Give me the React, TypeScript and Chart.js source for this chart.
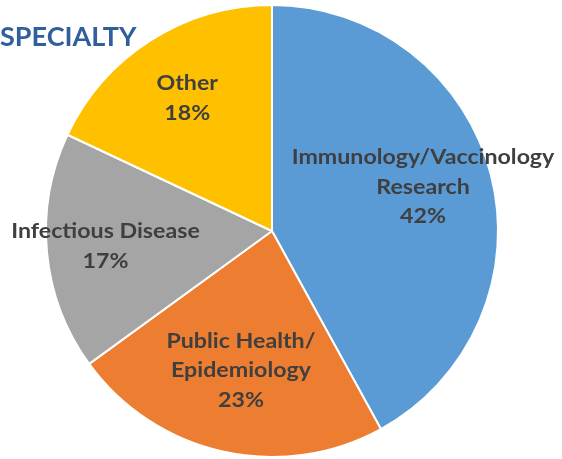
import React, { useEffect, useRef } from "react";
import { Chart, registerables } from "chart.js";

Chart.register(...registerables);

const categories = ["Immunology/Vaccinology Research", "Public Health/ Epidemiology", "Infectious Disease", "Other"];
const labelLines = [["Immunology/Vaccinology", "Research"], ["Public Health/", "Epidemiology"], ["Infectious Disease"], ["Other"]];
const values = [42, 23, 17, 18];
const colors = ["#5B9BD5", "#ED7D31", "#A5A5A5", "#FFC000"];
const labelRadius = [0.69, 0.63, 0.74, 0.7];
const labelShiftY = [-5, 1, 0, 1];
const titleText = "SPECIALTY";

const labelPlugin = {
  id: "sliceLabels",
  afterDatasetsDraw(chart: any) {
    const ctx = chart.ctx;
    const meta = chart.getDatasetMeta(0);
    const sx = 1.16;
    const lineH = 29.5;
    meta.data.forEach((arc: any, i: number) => {
      const p = arc.getProps(["x", "y", "startAngle", "endAngle", "outerRadius"], true);
      const mid = (p.startAngle + p.endAngle) / 2;
      const r = p.outerRadius * labelRadius[i];
      const cx = p.x + Math.cos(mid) * r;
      const cy = p.y + Math.sin(mid) * r + labelShiftY[i];
      const lines = [...labelLines[i], values[i] + "%"];
      const top = cy - ((lines.length - 1) * lineH) / 2;
      ctx.save();
      ctx.translate(cx, 0);
      ctx.scale(sx, 1);
      ctx.font = "bold 20px Lato";
      ctx.fillStyle = "#3F3F3F";
      ctx.textAlign = "center";
      ctx.textBaseline = "middle";
      lines.forEach((t, j) => ctx.fillText(t, 0, top + j * lineH));
      ctx.restore();
    });
  },
};

const titlePlugin = {
  id: "cornerTitle",
  afterDraw(chart: any) {
    const ctx = chart.ctx;
    ctx.save();
    ctx.font = "bold 27px Lato";
    ctx.fillStyle = "#305F9C";
    ctx.textAlign = "left";
    ctx.textBaseline = "alphabetic";
    ctx.fillText(titleText, 0, 46);
    ctx.restore();
  },
};

export default function App() {
  const ref = useRef<HTMLCanvasElement>(null);
  useEffect(() => {
    if (!ref.current) return;
    const chart = new Chart(ref.current, {
      type: "pie",
      data: {
        labels: categories,
        datasets: [
          {
            data: values,
            backgroundColor: colors,
            borderColor: "#ffffff",
            borderWidth: 2,
          },
        ],
      },
      options: {
        responsive: false,
        animation: false,
        layout: { padding: { left: 45, right: 63, top: 4, bottom: 1 } },
        plugins: {
          legend: { display: false },
          tooltip: { enabled: false },
          title: { display: false },
        },
      },
      plugins: [labelPlugin, titlePlugin],
    });
    return () => chart.destroy();
  }, []);
  return (
    <div style={{ position: "absolute", left: 0, top: 0, width: 562, height: 459, background: "#fff" }}>
      <canvas ref={ref} width={562} height={459} />
    </div>
  );
}
